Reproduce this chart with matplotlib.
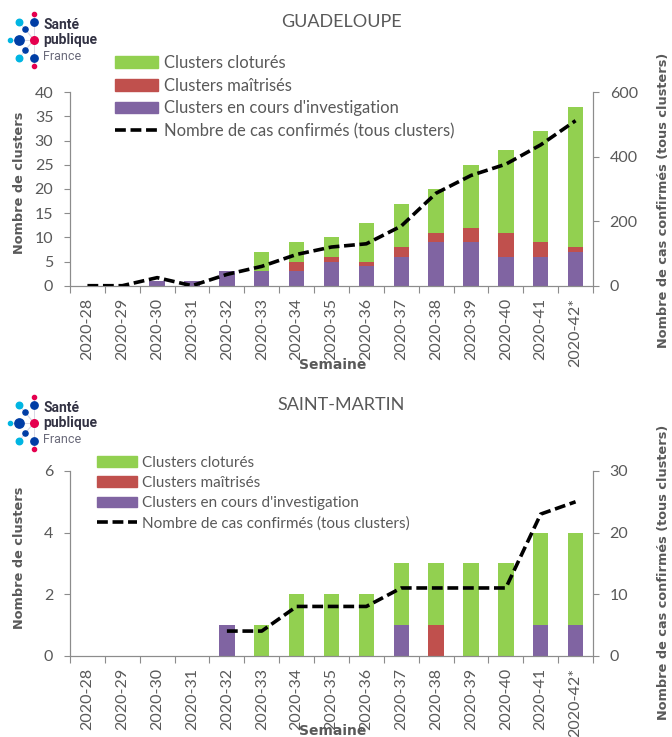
import matplotlib
matplotlib.use("Agg")
import matplotlib.pyplot as plt
import numpy as np
from matplotlib.lines import Line2D
from matplotlib.patches import Patch

weeks = ["2020-28", "2020-29", "2020-30", "2020-31", "2020-32", "2020-33", "2020-34",
         "2020-35", "2020-36", "2020-37", "2020-38", "2020-39", "2020-40", "2020-41", "2020-42*"]

# Guadeloupe
gp_invest = [0, 0, 1, 1, 3, 3, 3, 5, 4, 6, 9, 9, 6, 6, 7]
gp_maitr = [0, 0, 0, 0, 0, 0, 2, 1, 1, 2, 2, 3, 5, 3, 1]
gp_clot = [0, 0, 0, 0, 0, 4, 4, 4, 8, 9, 9, 13, 17, 23, 29]
gp_cas = [0, 0, 25, 0, 35, 60, 97, 120, 130, 185, 287, 342, 377, 437, 512]

# Saint-Martin
sm_invest = [0, 0, 0, 0, 1, 0, 0, 0, 0, 1, 0, 0, 0, 1, 1]
sm_maitr = [0, 0, 0, 0, 0, 0, 0, 0, 0, 0, 1, 0, 0, 0, 0]
sm_clot = [0, 0, 0, 0, 0, 1, 2, 2, 2, 2, 2, 3, 3, 3, 3]
sm_cas = [np.nan, np.nan, np.nan, np.nan, 4, 4, 8, 8, 8, 11, 11, 11, 11, 23, 25]

C_GREEN = "#92D050"
C_RED = "#C0504D"
C_PURPLE = "#8064A2"
GRAY = "#595959"
AXC = "#8C8C8C"

W, H = 672, 737
fig = plt.figure(figsize=(W / 100, H / 100), dpi=100)

TICKFONT = "Lato"
LBLFONT = "DejaVu Sans"


def fx(px):
    return px / W


def fy(py):
    return 1 - py / H


def draw_logo(dy):
    pts = [
        (34, 14, 9, "#E5004F"), (19, 22, 22, "#00B5E2"), (34, 22, 28, "#003DA5"),
        (25, 29, 14, "#003DA5"), (10, 40, 9, "#00B5E2"), (19, 40, 45, "#003DA5"),
        (34, 40, 30, "#E5004F"), (25, 50, 14, "#003DA5"), (19, 58, 22, "#00B5E2"),
        (34, 58, 28, "#003DA5"), (34, 66, 9, "#E5004F"),
    ]
    cx, cy = 34, 40
    for x, y, s, c in pts:
        fig.add_artist(Line2D([fx(cx), fx(x)], [fy(cy + dy), fy(y + dy)],
                              color="#D9D9E6", lw=0.6, zorder=1))
    for x, y, s, c in pts:
        fig.add_artist(Line2D([fx(x)], [fy(y + dy)], marker="o", markersize=np.sqrt(s),
                              color=c, lw=0, zorder=2))
    fig.text(fx(43), fy(25 + dy), "Santé", fontsize=10, fontweight="bold",
             color="#333344", va="center", ha="left", family="Roboto")
    fig.text(fx(43), fy(40 + dy), "publique", fontsize=10, fontweight="bold",
             color="#333344", va="center", ha="left", family="Roboto")
    fig.text(fx(43), fy(57 + dy), "France", fontsize=9, color="#6B6B7B",
             va="center", ha="left", family="Roboto")


def make_panel(rect, title, title_y, invest, maitr, clot, cas, ymax, ystep, y2max, y2step,
               leg_x, leg_y, leg_size, semaine_y, lab_y, lab2_y):
    ax = fig.add_axes(rect)
    x = np.arange(len(weeks))
    bw = 0.44
    inv = np.array(invest)
    mai = np.array(maitr)
    clo = np.array(clot)
    ax.bar(x, inv, bw, color=C_PURPLE, zorder=2)
    ax.bar(x, mai, bw, bottom=inv, color=C_RED, zorder=2)
    ax.bar(x, clo, bw, bottom=inv + mai, color=C_GREEN, zorder=2)
    ax.set_xlim(-0.5, len(weeks) - 0.5)
    ax.set_ylim(0, ymax)
    ax.set_yticks(np.arange(0, ymax + 0.01, ystep))
    ax.set_xticks(x)
    ax.set_xticklabels(weeks, rotation=90, fontsize=11.5, family=TICKFONT, color=GRAY)
    ax.set_xticks(np.arange(-0.5, len(weeks), 1), minor=True)
    ax.tick_params(axis="x", which="major", length=0, pad=9)
    ax.tick_params(axis="x", which="minor", length=5, color=AXC, width=0.8)
    ax.tick_params(axis="y", length=4, color=AXC, width=0.8, pad=8, labelsize=11.5, labelcolor=GRAY)
    for lb in ax.get_yticklabels():
        lb.set_family(TICKFONT)
    ax.spines["top"].set_visible(False)
    for s in ["left", "bottom", "right"]:
        ax.spines[s].set_color(AXC)
        ax.spines[s].set_linewidth(0.8)

    ax2 = ax.twinx()
    ax2.plot(x, cas, color="black", lw=2.6, linestyle=(0, (3, 1.3)), zorder=3)
    ax2.set_ylim(0, y2max)
    ax2.set_yticks(np.arange(0, y2max + 0.01, y2step))
    ax2.tick_params(axis="y", length=4, color=AXC, width=0.8, pad=8, labelsize=11.5, labelcolor=GRAY)
    for lb in ax2.get_yticklabels():
        lb.set_family(TICKFONT)
    ax2.spines["top"].set_visible(False)
    for s in ["left", "bottom", "right"]:
        ax2.spines[s].set_color(AXC)
        ax2.spines[s].set_linewidth(0.8)

    fig.text(fx(20), fy(lab_y), "Nombre de clusters", fontsize=9.3, fontweight="bold",
             color=GRAY, family=LBLFONT, rotation=90, ha="center", va="center")
    fig.text(fx(663), fy(lab2_y), "Nombre de cas confirmés (tous clusters)", fontsize=9.3,
             fontweight="bold", color=GRAY, family=LBLFONT, rotation=90, ha="center", va="center")

    fig.text(fx(341), fy(title_y), title, fontsize=13, color=GRAY, family=TICKFONT,
             ha="center", va="center")
    fig.text(fx(333), fy(semaine_y), "Semaine", fontsize=10, fontweight="bold", color=GRAY,
             family=LBLFONT, ha="center", va="center")

    handles = [Patch(color=C_GREEN), Patch(color=C_RED), Patch(color=C_PURPLE),
               Line2D([0], [0], color="black", lw=2.6, linestyle=(0, (3, 1.3)))]
    labels = ["Clusters cloturés", "Clusters maîtrisés", "Clusters en cours d'investigation",
              "Nombre de cas confirmés (tous clusters)"]
    leg = fig.legend(handles, labels, loc="upper left",
                     bbox_to_anchor=(fx(leg_x), fy(leg_y)), frameon=False,
                     prop={"family": TICKFONT, "size": leg_size}, handlelength=2.6,
                     handleheight=0.7, handletextpad=0.35, labelspacing=0.4,
                     borderpad=0, borderaxespad=0)
    for t in leg.get_texts():
        t.set_color(GRAY)
    return ax, ax2


# Top panel: axes from x=70..593, y=92.3..285.7
make_panel([fx(70), fy(285.7), fx(593 - 70), (285.7 - 92.3) / H], "GUADELOUPE", 22,
           gp_invest, gp_maitr, gp_clot, gp_cas, 40, 5, 600, 200,
           115, 55, 11.9, 365, 183, 200)

# Bottom panel: axes y=471..655.7
make_panel([fx(70), fy(655.7), fx(593 - 70), (655.7 - 471) / H], "SAINT-MARTIN", 405,
           sm_invest, sm_maitr, sm_clot, sm_cas, 6, 2, 30, 10,
           97, 456, 11.0, 731, 558, 572)

draw_logo(0)
draw_logo(383)

fig.savefig("out.png", dpi=100)
